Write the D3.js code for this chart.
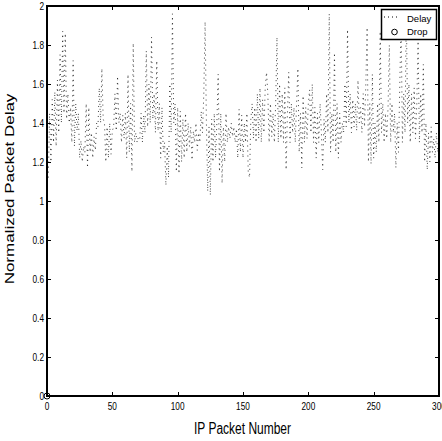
<!DOCTYPE html>
<html><head><meta charset="utf-8">
<script src="https://cdn.jsdelivr.net/npm/d3@7/dist/d3.min.js"></script>
<style>body{margin:0;background:#fff}svg{display:block}</style>
</head><body>
<svg id="c" width="442" height="441"></svg>
<script>
// Normalized packet delay per IP packet (packets 1..300)
const delay = [
1.12,1.45,1.20,1.52,1.30,1.56,1.28,1.62,1.35,1.75,
1.40,1.87,1.45,1.86,1.42,1.55,1.40,1.48,1.30,1.72,
1.28,1.50,1.36,1.45,1.22,1.31,1.20,1.28,1.25,1.50,
1.17,1.48,1.25,1.35,1.22,1.33,1.26,1.40,1.38,1.58,
1.40,1.68,1.42,1.40,1.20,1.38,1.22,1.40,1.24,1.36,
1.38,1.55,1.36,1.64,1.40,1.45,1.30,1.44,1.32,1.45,
1.22,1.65,1.25,1.50,1.15,1.81,1.30,1.35,1.30,1.33,
1.32,1.45,1.30,1.44,1.35,1.77,1.38,1.60,1.40,1.84,
1.42,1.55,1.35,1.72,1.36,1.50,1.22,1.48,1.25,1.30,
1.08,1.28,1.12,1.60,1.35,1.96,1.40,1.50,1.15,1.48,
1.14,1.46,1.20,1.42,1.22,1.45,1.25,1.40,1.28,1.38,
1.21,1.36,1.30,1.40,1.26,1.35,1.30,1.46,1.35,1.55,
1.92,1.40,1.05,1.38,1.03,1.42,1.20,1.45,1.22,1.40,
1.65,1.15,1.45,1.09,1.38,1.20,1.45,1.30,1.38,1.32,
1.40,1.33,1.38,1.30,1.37,1.22,1.47,1.25,1.44,1.22,
1.40,1.30,1.45,1.15,1.12,1.42,1.50,1.32,1.48,1.30,
1.55,1.32,1.58,1.30,1.52,1.35,1.58,1.66,1.55,1.30,
1.50,1.33,1.45,1.30,1.50,1.84,1.30,1.60,1.32,1.55,
1.30,1.58,1.16,1.45,1.66,1.30,1.50,1.35,1.48,1.30,
1.50,1.68,1.25,1.45,1.17,1.54,1.30,1.48,1.32,1.50,
1.57,1.35,1.60,1.30,1.48,1.22,1.45,1.30,1.50,1.35,
1.16,1.42,1.30,1.55,1.35,1.96,1.25,1.45,1.30,1.76,
1.25,1.50,1.22,1.45,1.30,1.40,1.35,1.60,1.38,1.88,
1.40,1.55,1.35,1.52,1.38,1.50,1.36,1.62,1.40,1.48,
1.35,1.55,1.38,1.60,1.89,1.20,1.50,1.19,1.65,1.22,
1.40,1.25,1.50,1.30,1.87,1.35,1.50,1.30,1.45,1.32,
1.48,1.80,1.30,1.50,1.35,1.45,1.17,1.40,1.25,1.60,
1.93,1.30,1.55,1.35,1.98,1.40,1.60,1.30,1.55,1.35,
1.58,1.32,1.50,1.82,1.30,1.55,1.35,1.70,1.20,1.40,
1.16,1.35,1.20,1.38,1.25,1.32,1.22,1.35,1.25,1.30
];
const packets = delay.map((d, i) => i + 1);
const dropX = [0];
const dropY = [0];
const xTicks = [0, 50, 100, 150, 200, 250, 300];
const xTickLabels = ["0", "50", "100", "150", "200", "250", "300"];
const yTicks = [0, 0.2, 0.4, 0.6, 0.8, 1, 1.2, 1.4, 1.6, 1.8, 2];
const yTickLabels = ["0", "0.2", "0.4", "0.6", "0.8", "1", "1.2", "1.4", "1.6", "1.8", "2"];
const seriesNames = ["Delay", "Drop"];
const xTitle = "IP Packet Number";
const yTitle = "Normalized Packet Delay";

const FONT = "'Liberation Sans', Arial, Helvetica, sans-serif";
const L = 47, R = 439, T = 6, B = 396;
const svg = d3.select("#c");
const x = d3.scaleLinear().domain([0, 300]).range([L, R]);
const y = d3.scaleLinear().domain([0, 2]).range([B, T]);

// data line (dotted)
const line = d3.line().x((d, i) => x(packets[i])).y(d => y(d));
svg.append("path").datum(delay)
  .attr("d", line)
  .attr("fill", "none")
  .attr("stroke", "#1a1a1a")
  .attr("stroke-width", 0.85)
  .attr("stroke-dasharray", "1,4");

// drop markers
svg.selectAll("circle.drop").data(dropX).enter().append("circle")
  .attr("class", "drop")
  .attr("cx", d => x(d)).attr("cy", (d, i) => y(dropY[i]))
  .attr("r", 3).attr("fill", "none").attr("stroke", "#000").attr("stroke-width", 1);

// ticks (inward, all four sides)
const tg = svg.append("g").attr("stroke", "#000").attr("stroke-width", 1);
xTicks.forEach(t => {
  const px = Math.round(x(t)) + 0.5;
  tg.append("line").attr("x1", px).attr("x2", px).attr("y1", B).attr("y2", B - 4);
  tg.append("line").attr("x1", px).attr("x2", px).attr("y1", T).attr("y2", T + 4);
});
yTicks.forEach(t => {
  const py = Math.round(y(t)) + 0.5;
  tg.append("line").attr("x1", L).attr("x2", L + 4).attr("y1", py).attr("y2", py);
  tg.append("line").attr("x1", R).attr("x2", R - 4).attr("y1", py).attr("y2", py);
});

// frame
svg.append("rect").attr("x", L).attr("y", T).attr("width", R - L).attr("height", B - T)
  .attr("fill", "none").attr("stroke", "#000").attr("stroke-width", 2);

// tick labels (narrow type)
function ntext(tx, ty, str, size, anchor, extra) {
  return svg.append("text")
    .attr("transform", `translate(${tx},${ty}) scale(0.75,1)` + (extra || ""))
    .attr("text-anchor", anchor)
    .attr("font-family", FONT).attr("font-size", size).attr("fill", "#000")
    .text(str);
}
xTicks.forEach((t, i) => ntext(x(t), 409.5, xTickLabels[i], 11, "middle"));
yTicks.forEach((t, i) => ntext(44, y(t) + 4, yTickLabels[i], 11, "end"));

// axis titles
ntext(242.5, 434, xTitle, 16, "middle");
ntext(14, 189, yTitle, 17, "middle", " rotate(-90)");

// legend
const lg = svg.append("g");
lg.append("rect").attr("x", 381.5).attr("y", 9.5).attr("width", 55).attr("height", 30)
  .attr("fill", "#fff").attr("stroke", "#000").attr("stroke-width", 1.5);
lg.append("line").attr("x1", 384).attr("x2", 399).attr("y1", 17).attr("y2", 17)
  .attr("stroke", "#000").attr("stroke-width", 1).attr("stroke-dasharray", "1,3");
lg.append("circle").attr("cx", 394.5).attr("cy", 32).attr("r", 2.8)
  .attr("fill", "none").attr("stroke", "#000").attr("stroke-width", 1);
lg.append("text").attr("x", 407).attr("y", 21.5).attr("font-family", FONT)
  .attr("font-size", 9.5).text(seriesNames[0]);
lg.append("text").attr("x", 407).attr("y", 35).attr("font-family", FONT)
  .attr("font-size", 9.5).text(seriesNames[1]);
</script>
</body></html>
